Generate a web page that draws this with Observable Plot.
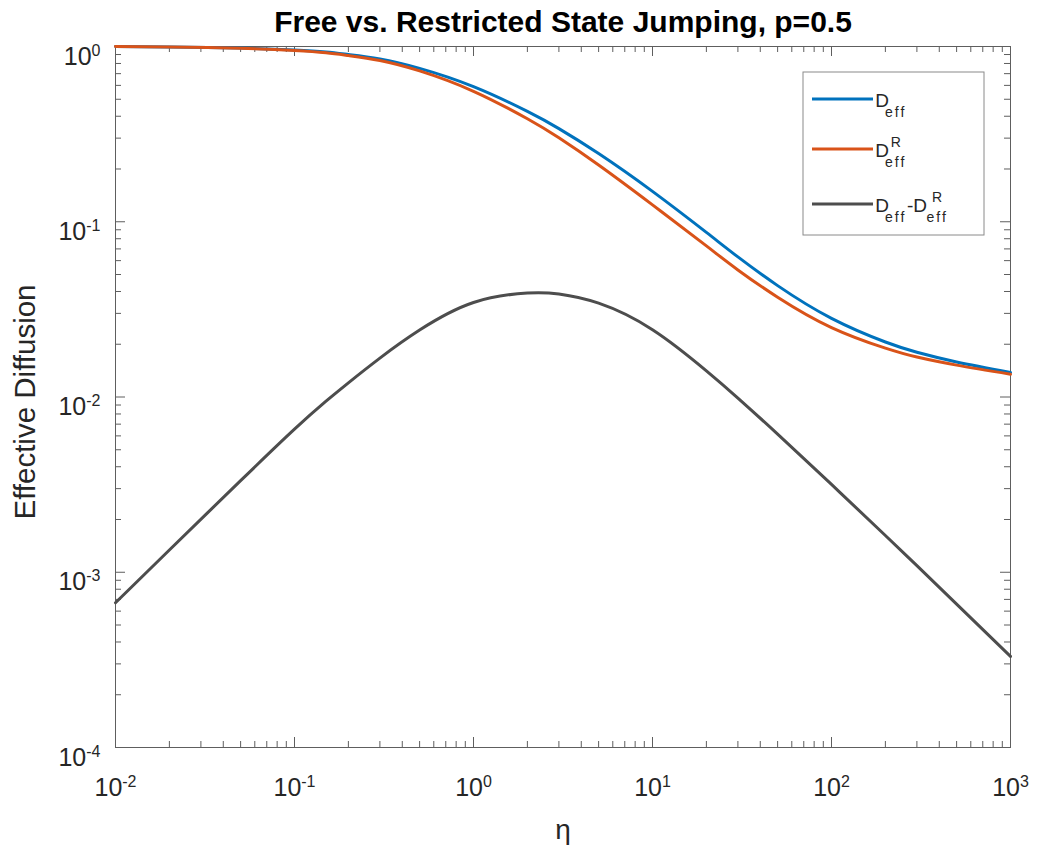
<!DOCTYPE html>
<html>
<head>
<meta charset="utf-8">
<script src="https://cdn.jsdelivr.net/npm/d3@7"></script>
<script src="https://cdn.jsdelivr.net/npm/@observablehq/plot@0.6"></script>
<style>
  html, body { margin: 0; padding: 0; background: #ffffff; }
  svg { display: block; }
</style>
</head>
<body>
<div id="chart"></div>
<script>
// ---------- data ----------
const eta   = [0.01, 0.02, 0.05, 0.1, 0.15, 0.2, 0.3, 0.5, 1, 2, 3, 5, 10, 20, 30, 50, 100, 200, 300, 500, 1000];
const dEff  = [1.0, 0.995, 0.980, 0.955, 0.930, 0.900, 0.849, 0.750, 0.590, 0.426, 0.340, 0.245, 0.149, 0.0869, 0.0630, 0.0432, 0.0281, 0.0206, 0.0180, 0.01585, 0.0138];
const dEffR = [0.9993, 0.9937, 0.9767, 0.9484, 0.9205, 0.8879, 0.8323, 0.7259, 0.5554, 0.3868, 0.3013, 0.2107, 0.1248, 0.0728, 0.0531, 0.0371, 0.0249, 0.0190, 0.0169, 0.0152, 0.0135];
const dDiff = [0.00067, 0.00134, 0.00333, 0.00655, 0.00946, 0.01205, 0.01667, 0.0241, 0.0346, 0.0392, 0.0387, 0.0343, 0.0242, 0.0141, 0.00986, 0.00614, 0.00317, 0.00162, 0.00109, 0.000658, 0.000331];

const seriesValues = [dEff, dEffR, dDiff];
const seriesColors = ["#0072BD", "#D95319", "#4D4D4D"];
// legend labels: main text / subscript / superscript parts
const seriesLegend = [
  [{t: "D", sub: "eff"}],
  [{t: "D", sub: "eff", sup: "R"}],
  [{t: "D", sub: "eff"}, {t: "-D", sub: "eff", sup: "R"}]
];

const xMajor = [1e-2, 1e-1, 1e0, 1e1, 1e2, 1e3];
const yMajor = [1e-4, 1e-3, 1e-2, 1e-1, 1e0];
const minorSteps = [2, 3, 4, 5, 6, 7, 8, 9];
const xMinor = xMajor.slice(0, -1).flatMap(d => minorSteps.map(k => d * k));
const yMinor = yMajor.slice(0, -1).flatMap(d => minorSteps.map(k => d * k));

const titleText = "Free vs. Restricted State Jumping, p=0.5";
const xLabel = "η";
const yLabel = "Effective Diffusion";

// ---------- layout ----------
const W = 1037, H = 851;
const mL = 115, mR = 27, mT = 46, mB = 104;
const innerW = W - mL - mR, innerH = H - mT - mB;
const font = "'Liberation Sans', Arial, Helvetica, sans-serif";
const axisColor = "#5e5e5e";
const textColor = "#262626";
const majorLen = 10, minorLen = 6;

const fmt = d => "10^" + Math.round(Math.log10(d));

const lines = seriesValues.map((vals, s) =>
  Plot.line(eta.map((e, i) => ({eta: e, value: vals[i]})), {
    x: "eta", y: "value", stroke: seriesColors[s], strokeWidth: 3, curve: "natural"
  })
);

const plot = Plot.plot({
  width: W, height: H,
  marginLeft: mL, marginRight: mR, marginTop: mT, marginBottom: mB,
  style: {fontFamily: font, background: "#ffffff", color: textColor},
  x: {type: "log", domain: [1e-2, 1e3]},
  y: {type: "log", domain: [1e-4, 1]},
  marks: [
    Plot.frame({stroke: axisColor, strokeWidth: 1}),
    // bottom & top ticks (inside)
    Plot.tickX(xMajor, {x: d => d, insetTop: innerH - majorLen, stroke: axisColor}),
    Plot.tickX(xMajor, {x: d => d, insetBottom: innerH - majorLen, stroke: axisColor}),
    Plot.tickX(xMinor, {x: d => d, insetTop: innerH - minorLen, stroke: axisColor}),
    Plot.tickX(xMinor, {x: d => d, insetBottom: innerH - minorLen, stroke: axisColor}),
    // left & right ticks (inside)
    Plot.tickY(yMajor, {y: d => d, insetRight: innerW - majorLen, stroke: axisColor}),
    Plot.tickY(yMajor, {y: d => d, insetLeft: innerW - majorLen, stroke: axisColor}),
    Plot.tickY(yMinor, {y: d => d, insetRight: innerW - minorLen, stroke: axisColor}),
    Plot.tickY(yMinor, {y: d => d, insetLeft: innerW - minorLen, stroke: axisColor}),
    Plot.axisX({ticks: xMajor, tickSize: 0, tickPadding: 0, tickFormat: fmt, fontSize: 25, label: null}),
    Plot.axisY({ticks: yMajor, tickSize: 0, tickPadding: 15, tickFormat: fmt, fontSize: 25, label: null}),
    ...lines,
    Plot.text([titleText], {frameAnchor: "top", dy: -15, lineAnchor: "bottom", textAnchor: "middle", fontWeight: "bold", fontSize: 30, fill: "#000"}),
    Plot.text([xLabel], {frameAnchor: "bottom", dy: 91, lineAnchor: "bottom", textAnchor: "middle", fontSize: 28, fill: textColor}),
    Plot.text([yLabel], {frameAnchor: "left", dx: -81, dy: 5, rotate: -90, lineAnchor: "bottom", textAnchor: "middle", fontSize: 29.5, fill: textColor})
  ]
});

document.getElementById("chart").append(plot);
const svg = plot.tagName.toLowerCase() === "svg" ? plot : plot.querySelector("svg");
const NS = "http://www.w3.org/2000/svg";

// superscript exponents on tick labels
function supify(selector, yOffset) {
  svg.querySelectorAll(selector).forEach(t => {
    const m = t.textContent.match(/^10\^(-?\d+)$/);
    if (!m) return;
    t.textContent = "10";
    t.setAttribute("y", yOffset);
    t.setAttribute("fill", textColor);
    const ts = document.createElementNS(NS, "tspan");
    ts.setAttribute("dy", "-9");
    ts.setAttribute("font-size", "16");
    ts.textContent = m[1];
    t.append(ts);
  });
}
supify('[aria-label="x-axis tick label"] text', "48");
supify('[aria-label="y-axis tick label"] text', "18");

// legend (MATLAB-style box, top-right inside the axes)
const legW = 181, legH = 163;
const legX = W - mR - 26 - legW, legY = mT + 26;
const entryY = [27, 77, 132];
const lg = d3.select(svg).append("g").attr("font-family", font).attr("fill", textColor);
lg.append("rect").attr("x", legX).attr("y", legY).attr("width", legW).attr("height", legH)
  .attr("fill", "#fff").attr("stroke", "#8a8a8a").attr("stroke-width", 1);
seriesLegend.forEach((parts, s) => {
  const cy = legY + entryY[s];
  lg.append("line").attr("x1", legX + 9).attr("x2", legX + 70).attr("y1", cy).attr("y2", cy)
    .attr("stroke", seriesColors[s]).attr("stroke-width", 3);
  const base = cy + 8;
  // one text element per entry; sub/superscripts as positioned tspans
  const txt = lg.append("text").attr("font-size", 19);
  let cx = legX + 79;
  parts.forEach(p => {
    const main = txt.append("tspan").attr("x", cx).attr("y", base).text(p.t);
    cx += main.node().getComputedTextLength();
    let w = 0;
    if (p.sub) {
      const sb = txt.append("tspan").attr("x", cx).attr("y", base + 10).attr("font-size", 14)
        .attr("letter-spacing", 2).text(p.sub);
      w = Math.max(w, sb.node().getComputedTextLength());
    }
    if (p.sup) {
      const sp = txt.append("tspan").attr("x", cx).attr("y", base - 10).attr("font-size", 14).text(p.sup);
      w = Math.max(w, sp.node().getComputedTextLength());
    }
    cx += w;
  });
});
</script>
</body>
</html>
